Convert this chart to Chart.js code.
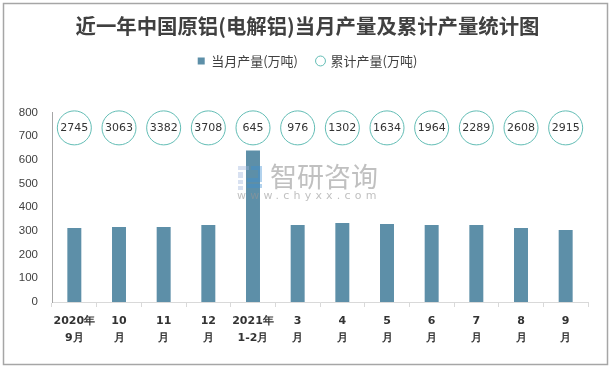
<!DOCTYPE html>
<html>
<head>
<meta charset="utf-8">
<style>
body { margin: 0; background: #fff; }
canvas { display: block; }
</style>
<script src="https://cdn.jsdelivr.net/npm/chart.js@4/dist/chart.umd.min.js"></script>
</head>
<body>
<canvas id="myChart" width="615" height="368"></canvas>
<script>
var months = [["2020年", "9月"], ["10", "月"], ["11", "月"], ["12", "月"], ["2021年", "1-2月"], ["3", "月"], ["4", "月"], ["5", "月"], ["6", "月"], ["7", "月"], ["8", "月"], ["9", "月"]];
var monthly = [312, 317, 317, 325, 640, 325, 333, 329, 325, 325, 312, 304];
var cumulative = [2745, 3063, 3382, 3708, 645, 976, 1302, 1634, 1964, 2289, 2608, 2915];
var yTicks = [0, 100, 200, 300, 400, 500, 600, 700, 800];
// the circles all sit on one line in the picture, the number inside is the real value
var circleLevel = 735;

var frame = {
    id: 'frame',
    beforeInit: function (chart) {
        // leave the empty band between legend and plot
        var fit = chart.legend.fit;
        chart.legend.fit = function () {
            fit.call(this);
            this.height += 35;
        };
    },
    beforeDraw: function (chart) {
        var c = chart.ctx;
        c.save();
        c.fillStyle = '#fff';
        c.fillRect(0, 0, 615, 368);
        c.strokeStyle = '#a6a6a6';
        c.lineWidth = 1.5;
        c.strokeRect(3.5, 3.5, 604, 361);
        c.restore();
    }
};

var circleText = {
    id: 'circleText',
    afterDatasetsDraw: function (chart) {
        var c = chart.ctx;
        var pts = chart.getDatasetMeta(1).data;
        c.save();
        c.font = '11px "DejaVu Sans"';
        c.fillStyle = '#333';
        c.textAlign = 'center';
        c.textBaseline = 'middle';
        for (var i = 0; i < pts.length; i++) {
            c.fillText(cumulative[i], pts[i].x, pts[i].y);
        }
        c.restore();
    }
};

var watermark = {
    id: 'watermark',
    afterDatasetsDraw: function (chart) {
        var c = chart.ctx;
        c.save();
        c.globalAlpha = 0.4;
        c.fillStyle = '#9db4dc';
        c.fillRect(238, 166, 11, 4);
        c.fillRect(238, 172, 5, 6);
        c.fillRect(238, 180, 5, 4);
        c.fillRect(238, 186, 5, 4);
        c.fillStyle = '#3f8fd2';
        c.fillRect(251, 166, 11, 4);
        c.fillRect(258, 170, 4, 12);
        c.fillRect(247, 178, 11, 4);
        c.fillRect(247, 184, 15, 4);
        c.globalAlpha = 1;
        c.fillStyle = 'rgba(150,150,150,0.6)';
        c.font = '27px "Noto Sans CJK SC"';
        c.textAlign = 'left';
        c.textBaseline = 'middle';
        c.fillText('智研咨询', 270, 177);
        c.font = '11px "DejaVu Sans"';
        c.letterSpacing = '4.2px';
        c.fillText('www.chyxx.com', 237, 196);
        c.restore();
    }
};

var ctx = document.getElementById('myChart').getContext('2d');
var myChart = new Chart(ctx, {
    data: {
        labels: months,
        datasets: [{
            type: 'bar',
            label: '当月产量(万吨)',
            data: monthly,
            backgroundColor: '#5d8fa8',
            barPercentage: 0.313,
            categoryPercentage: 1,
            pointStyle: 'rect',
            order: 2
        }, {
            type: 'line',
            label: '累计产量(万吨)',
            data: months.map(function () { return circleLevel; }),
            showLine: false,
            clip: false,
            pointStyle: 'circle',
            pointRadius: 17,
            pointBorderWidth: 1,
            pointBorderColor: '#62bdb5',
            pointBackgroundColor: '#fff',
            borderColor: '#8fd3cd',
            backgroundColor: '#fff',
            borderWidth: 2,
            order: 1
        }]
    },
    options: {
        responsive: false,
        animation: false,
        layout: { padding: { left: 0, right: 0, top: 14, bottom: 20 } },
        plugins: {
            title: {
                display: true,
                text: '近一年中国原铝(电解铝)当月产量及累计产量统计图',
                color: '#404040',
                font: { family: '"Noto Sans CJK SC"', size: 20.4, weight: 'bold' },
                padding: { top: 0, bottom: -3 }
            },
            legend: {
                display: true,
                position: 'top',
                labels: {
                    usePointStyle: true,
                    boxWidth: 7,
                    boxHeight: 7,
                    padding: 19,
                    color: '#404040',
                    font: { family: '"Noto Sans CJK SC"', size: 13 },
                    sort: function (a, b) { return a.datasetIndex - b.datasetIndex; }
                }
            },
            tooltip: { enabled: false }
        },
        scales: {
            x: {
                offset: true,
                grid: { drawOnChartArea: false, color: '#d9d9d9', tickLength: 5 },
                border: { color: '#d9d9d9', width: 1 },
                ticks: {
                    autoSkip: false,
                    maxRotation: 0,
                    color: '#333',
                    padding: 6,
                    font: { family: '"DejaVu Sans"', size: 11, weight: 'bold', lineHeight: 1.5 }
                },
                afterFit: function (scale) { scale.height = 46; }
            },
            y: {
                min: 0,
                max: 800,
                afterBuildTicks: function (scale) {
                    scale.ticks = yTicks.map(function (v) { return { value: v }; });
                },
                grid: { display: false, drawTicks: false },
                border: { color: '#a6a6a6', width: 1 },
                ticks: {
                    color: '#404040',
                    padding: 14,
                    font: { family: '"Liberation Sans"', size: 11.5 }
                },
                afterFit: function (scale) { scale.width = 52; }
            },
            // empty axis, only keeps the plot clear of the right edge so title and legend stay centred
            yRight: {
                position: 'right',
                min: 0,
                max: 800,
                grid: { display: false, drawTicks: false },
                border: { display: false },
                ticks: { display: false },
                afterFit: function (scale) { scale.width = 27; }
            }
        }
    },
    plugins: [frame, circleText, watermark]
});
document.title = JSON.stringify(myChart.chartArea);
</script>
</body>
</html>
